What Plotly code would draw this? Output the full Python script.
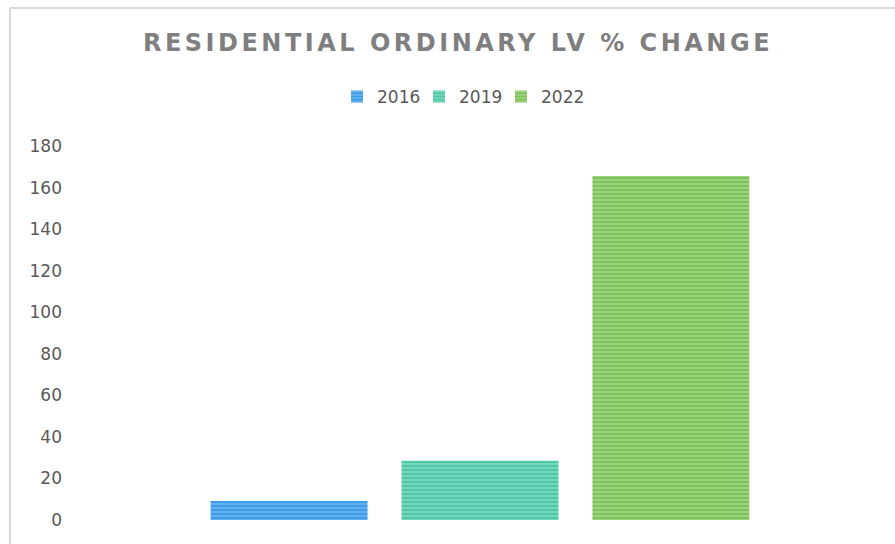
import plotly.graph_objects as go

categories = ["Residential Ordinary LV"]
series_names = ["2016", "2019", "2022"]
values_2016 = [9.1]
values_2019 = [28.5]
values_2022 = [165.6]
y_ticks = [0, 20, 40, 60, 80, 100, 120, 140, 160, 180]

series_values = [values_2016, values_2019, values_2022]
base_colors = ["#3d9de8", "#4cc9a5", "#7dc25a"]
light_colors = ["#92cbf5", "#ade8d7", "#c4e5ae"]

fig = go.Figure()
for name, vals, c, lc in zip(series_names, series_values, base_colors, light_colors):
    fig.add_trace(go.Bar(
        x=categories, y=vals, name=name,
        marker=dict(color=c, line=dict(width=0),
                    pattern=dict(shape="-", fgcolor=lc, bgcolor=c, size=4, solidity=0.45)),
    ))

W, H = 895, 544
L, R, T, B = 68, 3, 146, 24

fig.update_layout(
    width=W, height=H,
    margin=dict(l=L, r=R, t=T, b=B),
    paper_bgcolor="white", plot_bgcolor="white",
    barmode="group", bargap=0.305, bargroupgap=0.178,
    font=dict(family="DejaVu Sans, sans-serif", color="#595959", size=18),
    title=dict(text="<b>RESIDENTIAL ORDINARY LV % CHANGE</b>",
               font=dict(family="DejaVu Sans, sans-serif", size=24, color="#7f7f7f"),
               x=458 / W, xref="container", xanchor="center",
               y=1 - 43 / H, yref="container", yanchor="middle"),
    legend=dict(orientation="h", x=(460 - L) / (W - L - R), xanchor="center",
                y=(520 - 97) / 374, yanchor="middle",
                font=dict(family="DejaVu Sans, sans-serif", size=17, color="#595959"),
                itemwidth=30, entrywidth=37, entrywidthmode="pixels",
                traceorder="normal"),
    showlegend=True,
    xaxis=dict(showticklabels=False, showgrid=False, zeroline=False, showline=False, ticks=""),
    yaxis=dict(range=[0, 180], tickvals=y_ticks, showgrid=False, zeroline=False,
               showline=False, ticks="", ticklabelstandoff=5,
               tickfont=dict(family="DejaVu Sans, sans-serif", size=17, color="#595959")),
)

# chart-area border (top and left edges visible in the crop)
pw = W - L - R
ph = H - T - B
x_left = (10 - L) / pw
y_top = (H - B - 8) / ph
fig.add_shape(type="line", xref="paper", yref="paper", x0=x_left, x1=(W - L) / pw + 0.01,
              y0=y_top, y1=y_top, line=dict(color="#d9d9d9", width=2))
fig.add_shape(type="line", xref="paper", yref="paper", x0=x_left, x1=x_left,
              y0=y_top, y1=-B / ph - 0.01, line=dict(color="#d9d9d9", width=2))

post = (
    "document.body.style.margin='0';"
    "var t=document.querySelector('.gtitle');"
    "if(t){t.style.letterSpacing='3.5px';}"
)
fig.write_html("out.html", post_script=post, config={"displayModeBar": False})
